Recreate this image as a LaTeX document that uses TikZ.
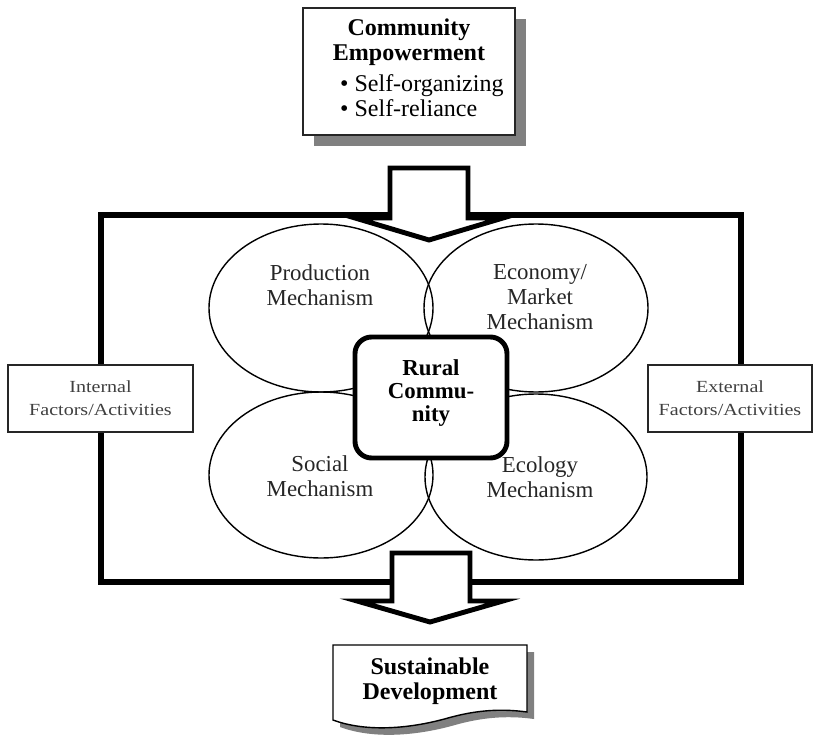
\documentclass[tikz,border=0pt]{standalone}
\usepackage{fontspec}
\setmainfont{Liberation Serif}
\newfontfamily\sidefont[FakeStretch=1.18]{Liberation Serif}
\usetikzlibrary{positioning}

\begin{document}
\begin{tikzpicture}[x=0.03cm,y=-0.03cm,
  mech/.style={align=center,text=black!85,font=\fontsize{19.5}{21.3}\selectfont},
  bigtext/.style={align=center,font=\fontsize{20.5}{21.3}\selectfont\bfseries},
  factor/.style={draw=black!85,line width=1.4pt,fill=white,align=center,text=black!75,
    minimum height=2.01cm,font=\sidefont\fontsize{14.5}{19.6}\selectfont},
  blockarrow/.style={draw,line width=4.2pt,fill=white,line join=miter}]
\useasboundingbox (0,0) rectangle (823,735);
%top box with shadow
\fill[gray] (314,19) rectangle (526,146);
\node[draw=black!85,line width=1.4pt,fill=white,minimum width=6.36cm,minimum height=3.81cm] (empbox) at (409,71.5) {};
\node[bigtext] (emp) at (409,42) {Community\\Empowerment};
\node[anchor=west,align=left,font=\fontsize{20.5}{21.3}\selectfont] (selfs) at (336,96) {\textbullet\ Self-organizing\\\textbullet\ Self-reliance};
%the frame
\draw[line width=5pt] (101,215) rectangle (741,582);
%the four mechanisms
\draw[line width=1.2pt] (321,308) ellipse (112 and 84);
\draw[line width=1.2pt] (536,308) ellipse (112 and 84);
\draw[line width=1.2pt] (321,475) ellipse (112 and 83);
\draw[line width=1.2pt] (536,477) ellipse (111 and 83);
\node[mech] (prod) at (320,285) {Production\\Mechanism};
\node[mech] (econ) at (540,297) {Economy/\\Market\\Mechanism};
\node[mech] (soc) at (320,476) {Social\\Mechanism};
\node[mech] (eco) at (540,477) {Ecology\\Mechanism};
%block arrows in and out
\draw[blockarrow] (390,168) -- (468,168) -- (468,218) -- (503,218) -- (429,240) -- (355,218) -- (390,218) -- cycle;
\draw[blockarrow] (392,553) -- (470,553) -- (470,601) -- (503,601) -- (430,622) -- (357,601) -- (392,601) -- cycle;
%internal and external factors
\node[factor,minimum width=5.55cm] (int) at (100.5,398.5) {Internal\\Factors/Activities};
\node[factor,minimum width=4.92cm] (ext) at (730,398.5) {External\\Factors/Activities};
%rural community
\node[draw,line width=4.2pt,fill=white,rounded corners=0.5cm,minimum width=4.56cm,minimum height=3.63cm] (rural) at (431,397.5) {};
\node[bigtext,font=\fontsize{19.5}{20}\selectfont\bfseries] (ruraltxt) at (431,393) {Rural\\Commu-\\nity};
%sustainable development, document shape
\fill[gray] (340,652) -- (534,652) -- (534,719) .. controls (505,715) and (480,718) .. (455,725) .. controls (420,735) and (375,740) .. (340,727) -- cycle;
\draw[line width=1.2pt,fill=white] (333,645) -- (527,645) -- (527,712) .. controls (498,708) and (473,711) .. (448,718) .. controls (413,728) and (368,733) .. (333,720) -- cycle;
\node[bigtext] (sust) at (430,681) {Sustainable\\Development};
\end{tikzpicture}
\end{document}
